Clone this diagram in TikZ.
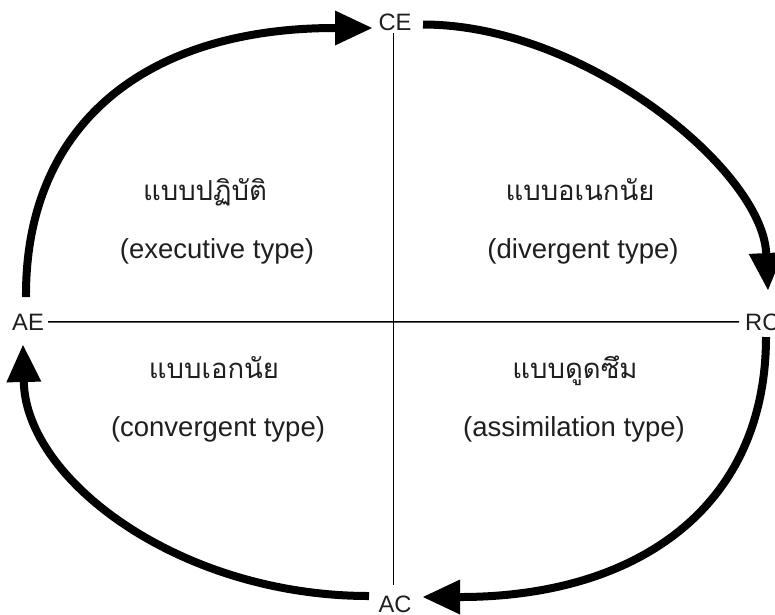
\documentclass[tikz,border=0pt]{standalone}
\usepackage{fontspec}
\setmainfont{Liberation Sans}
\newfontfamily\thaifont[Script=Thai]{Loma}
\usetikzlibrary{arrows.meta}
\begin{document}
\begin{tikzpicture}[x=1pt,y=-1pt,
  cyc/.style={line width=8pt,-{Triangle[length=37pt,width=35pt,line width=0pt]}},
  axisline/.style={line width=1.5pt},
  lbl/.style={font=\fontsize{23.7}{26}\selectfont, text=black!88, inner sep=0pt, anchor=base},
  thai/.style={font=\thaifont\fontsize{27.5}{30}\selectfont, text=black!88, inner sep=0pt, anchor=base},
  eng/.style={font=\fontsize{27.5}{30}\selectfont, text=black!88, inner sep=0pt, anchor=base}]
\useasboundingbox (0,0) rectangle (775,614);
% pole labels
\node[lbl] (CE) at (395,30) {CE};
\node[lbl] (AE) at (28,330) {AE};
\node[lbl,anchor=base west] (RC) at (745,330) {RC};
\node[lbl] (AC) at (395,612) {AC};
% axes
\draw[axisline,shorten <=4pt,shorten >=6pt] (AE.east) -- (RC.west);
\draw[axisline,shorten <=3pt,shorten >=10pt] (CE.south -| 393.5,0) -- (AC.north -| 393.5,0);
% quadrant texts
\node[thai] (t1) at (205,200) {แบบปฏิบัติ};
\node[eng]  (e1) at (217,258) {(executive type)};
\node[thai] (t2) at (580,200) {แบบอเนกนัย};
\node[eng]  (e2) at (583,258) {(divergent type)};
\node[thai] (t3) at (214,378) {แบบเอกนัย};
\node[eng]  (e3) at (218,436) {(convergent type)};
\node[thai] (t4) at (575,378) {แบบดูดซึม};
\node[eng]  (e4) at (574,436) {(assimilation type)};
% cycle arcs
\coordinate (aeTop) at (26,297);
\coordinate (ceIn) at (372,28);
\coordinate (ceOut) at (423,24.5);
\coordinate (rcIn) at (768,290);
\coordinate (rcOut) at (766,337);
\coordinate (acIn) at (423,597);
\coordinate (acOut) at (369,596);
\coordinate (aeIn) at (23,345);
\draw[cyc] (aeTop) .. controls (25,125) and (145,28) .. (ceIn);
\draw[cyc] (ceOut) .. controls (585,24.5) and (762,170) .. (rcIn);
\draw[cyc] (rcOut) .. controls (766,505) and (640,597) .. (acIn);
\draw[cyc] (acOut) .. controls (180,596) and (26,480) .. (aeIn);
\end{tikzpicture}
\end{document}
